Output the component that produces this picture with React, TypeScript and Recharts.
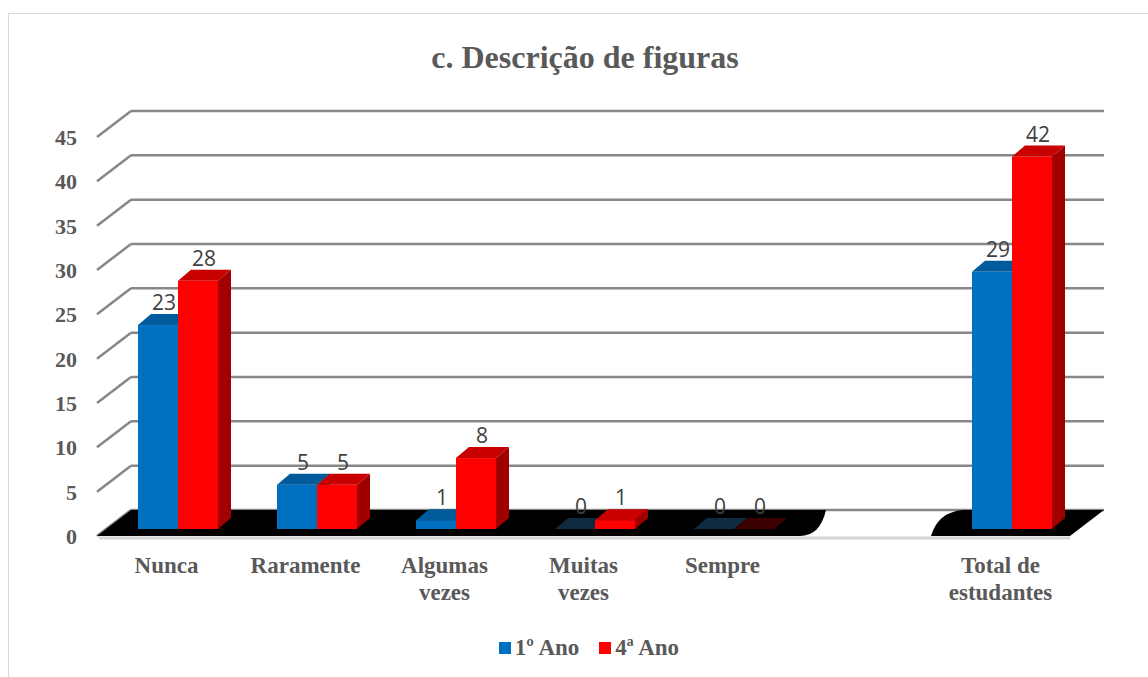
import React from "react"
import { Bar, BarChart, CartesianGrid, LabelList, Legend, ReferenceArea, XAxis, YAxis } from "recharts"

const categories = ["Nunca", "Raramente", "Algumas vezes", "Muitas vezes", "Sempre", " ", "Total de estudantes"]
const primeiroAno = [23, 5, 1, 0, 0, null, 29]
const quartoAno = [28, 5, 8, 1, 0, null, 42]
const yTicks = [0, 5, 10, 15, 20, 25, 30, 35, 40, 45]

const data = categories.map((name, i) => ({ name, a1: primeiroAno[i], a4: quartoAno[i] }))

const textColor = "#595959"
const serif = "'Liberation Serif', 'Times New Roman', serif"

// bar face sits a bit behind the front plane, back wall further back
const FACE_DX = 11
const FACE_DY = -7
const DEPTH_X = 13
const DEPTH_Y = -11
const WALL_DX = 34
const WALL_DY = -26

type Shade = { face: string; top: string; side: string; flat: string }
const blue: Shade = { face: "#0070c0", top: "#005b9c", side: "#004e86", flat: "#0e2b42" }
const red: Shade = { face: "#ff0000", top: "#c80000", side: "#a00000", flat: "#3c0000" }

function makeBox(shade: Shade) {
  return (props: any) => {
    const { x, y, width, height, value } = props
    if (value == null) return <g />
    const fx = x + FACE_DX
    const fy = y + FACE_DY
    const h = Math.max(0, height)
    if (h < 0.5) {
      return (
        <polygon
          points={`${fx},${fy} ${fx + width},${fy} ${fx + width + DEPTH_X},${fy + DEPTH_Y} ${fx + DEPTH_X},${fy + DEPTH_Y}`}
          fill={shade.flat}
        />
      )
    }
    return (
      <g>
        <rect x={fx} y={fy} width={width} height={h} fill={shade.face} />
        <polygon
          points={`${fx},${fy} ${fx + width},${fy} ${fx + width + DEPTH_X},${fy + DEPTH_Y} ${fx + DEPTH_X},${fy + DEPTH_Y}`}
          fill={shade.top}
        />
        <polygon
          points={`${fx + width},${fy} ${fx + width + DEPTH_X},${fy + DEPTH_Y} ${fx + width + DEPTH_X},${fy + h + DEPTH_Y} ${fx + width},${fy + h}`}
          fill={shade.side}
        />
      </g>
    )
  }
}

const valueLabel = (props: any) => {
  const { x, y, width, value } = props
  if (value == null) return null
  return (
    <text
      x={x + FACE_DX + width / 2 + 6}
      y={y + FACE_DY + DEPTH_Y - 4}
      textAnchor="middle"
      fontFamily="'Open Sans', sans-serif"
      fontSize={21}
      fill="#404040"
    >
      {value}
    </text>
  )
}

const gridLine = (props: any) => {
  const { x1, x2, y1, key } = props
  const c = "#878787"
  return (
    <g key={key}>
      <line x1={x1} y1={y1} x2={x1 + WALL_DX} y2={y1 + WALL_DY} stroke={c} strokeWidth={2.5} />
      <line x1={x1 + WALL_DX} y1={y1 + WALL_DY} x2={x2 + WALL_DX} y2={y1 + WALL_DY} stroke={c} strokeWidth={2.5} />
    </g>
  )
}

const floorShadow = (props: any) => {
  const { x, y, width, height } = props
  const fy = y + height
  return <line x1={x + 2} y1={fy + 2} x2={x + width} y2={fy + 2} stroke="#d4d4d4" strokeWidth={3} />
}

const floorLeft = (props: any) => {
  const { x, y, width, height } = props
  const fy = y + height
  const r = x + width
  const d = `M${x},${fy} L${x + WALL_DX},${fy + WALL_DY} L${r + WALL_DX},${fy + WALL_DY} Q${r + 28},${fy} ${r + 8},${fy} Z`
  return <path d={d} fill="#000" />
}

const floorRight = (props: any) => {
  const { x, y, width, height } = props
  const fy = y + height
  const r = x + width
  const d = `M${x},${fy} Q${x + 7},${fy + WALL_DY + 2} ${x + 32},${fy + WALL_DY} L${r + WALL_DX},${fy + WALL_DY} L${r},${fy} Z`
  return <path d={d} fill="#000" />
}

const CategoryTick = (props: any) => {
  const { x, y, payload } = props
  const words = String(payload.value).trim().split(" ")
  let lines: string[] = []
  if (words.length > 2) lines = [words.slice(0, 2).join(" "), words.slice(2).join(" ")]
  else if (words.length === 2) lines = words
  else lines = [words[0]]
  return (
    <text x={x} y={y} textAnchor="middle" fontFamily={serif} fontWeight="bold" fontSize={23} fill={textColor}>
      {lines.map((l, i) => (
        <tspan key={i} x={x} dy={i === 0 ? 31 : 27}>
          {l}
        </tspan>
      ))}
    </text>
  )
}

const ValueTick = (props: any) => {
  const { x, y, payload } = props
  return (
    <text x={x} y={y} dy={8} textAnchor="end" fontFamily={serif} fontWeight="bold" fontSize={22} fill={textColor}>
      {payload.value}
    </text>
  )
}

const LegendContent = (props: any) => {
  const items = props.payload || []
  return (
    <div style={{ display: "flex", justifyContent: "center", height: 30, alignItems: "center", paddingLeft: 30 }}>
      {items.map((it: any, i: number) => (
        <div key={i} style={{ display: "flex", alignItems: "center", marginRight: i === 0 ? 20 : 0 }}>
          <div style={{ width: 12, height: 12, background: it.color, marginRight: 4 }} />
          <span style={{ fontFamily: serif, fontWeight: "bold", fontSize: 23, color: textColor }}>{it.value}</span>
        </div>
      ))}
    </div>
  )
}

export default function App() {
  return (
    <div style={{ position: "fixed", left: 0, top: 0, width: 1148, height: 677, overflow: "hidden", background: "#fff" }}>
      <div
        style={{
          position: "absolute",
          left: 8,
          top: 13,
          width: 1180,
          height: 720,
          border: "1.5px solid #d9d9d9",
        }}
      />
      <div
        style={{
          position: "absolute",
          left: 0,
          top: 41,
          width: 1170,
          textAlign: "center",
          fontFamily: serif,
          fontWeight: "bold",
          fontSize: 32,
          lineHeight: "32px",
          color: textColor,
        }}
      >
        c. Descrição de figuras
      </div>
      <div style={{ position: "absolute", left: 0, top: 0 }}>
        <BarChart
          width={1148}
          height={677}
          data={data}
          margin={{ top: 137, right: 78, left: 0, bottom: 14 }}
          barSize={40}
          barGap={0}
        >
          <ReferenceArea x1={categories[0]} x2={categories[6]} y1={0} y2={45} shape={floorShadow} />
          <ReferenceArea x1={categories[0]} x2={categories[4]} y1={0} y2={45} shape={floorLeft} />
          <ReferenceArea x1={categories[6]} x2={categories[6]} y1={0} y2={45} shape={floorRight} />
          <CartesianGrid vertical={false} horizontal={gridLine} />
          <XAxis dataKey="name" axisLine={false} tickLine={false} tickMargin={0} height={97} interval={0} tick={<CategoryTick />} />
          <YAxis
            width={97}
            domain={[0, 45]}
            ticks={yTicks}
            axisLine={false}
            tickLine={false}
            tickMargin={14}
            tick={<ValueTick />}
          />
          <Legend verticalAlign="bottom" height={30} wrapperStyle={{ left: 0, width: 1148 }} content={<LegendContent />} />
          <Bar dataKey="a1" name="1º Ano" fill={blue.face} shape={makeBox(blue)} isAnimationActive={false}>
            <LabelList dataKey="a1" content={valueLabel} />
          </Bar>
          <Bar dataKey="a4" name="4ª Ano" fill={red.face} shape={makeBox(red)} isAnimationActive={false}>
            <LabelList dataKey="a4" content={valueLabel} />
          </Bar>
        </BarChart>
      </div>
    </div>
  )
}
